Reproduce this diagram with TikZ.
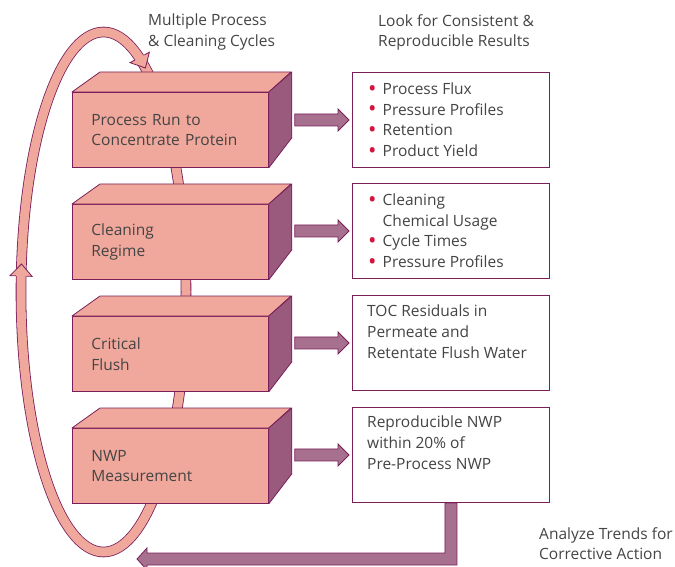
\documentclass[tikz,border=0pt]{standalone}
\usepackage{fontspec}
\setmainfont{Open Sans}
\usetikzlibrary{calc}

\definecolor{salmon}{RGB}{240,168,156}
\definecolor{plum}{RGB}{154,90,126}
\definecolor{plumline}{RGB}{122,30,90}
\definecolor{arrowplum}{RGB}{166,112,142}
\definecolor{dotred}{RGB}{212,20,60}
\definecolor{txt}{RGB}{68,68,68}

\newcommand{\labelfont}{\fontsize{15.5}{20.7}\selectfont}
\newcommand{\itm}{\makebox[14.5pt][l]{\raisebox{-1.8pt}{\scalebox{1.45}{\textcolor{dotred}{\textbullet}}}}}

\tikzset{
	stage/.style={draw=plumline, fill=salmon, line width=0.8pt, anchor=north west,
		text width=158pt, inner xsep=19pt, inner ysep=0pt, minimum height=75pt,
		align=left, text=txt, font=\labelfont},
	face/.style={draw=plumline, line width=0.8pt, line join=round},
	resbox/.style={draw=plumline, fill=white, line width=0.9pt, anchor=north west,
		minimum width=197pt, minimum height=95pt, inner sep=0pt},
	restext/.style={anchor=north west, inner sep=0pt, align=left, text=txt, font=\labelfont},
	fatarrow/.style={draw=plumline, fill=arrowplum, line width=0.8pt, line join=miter},
	ring/.style={draw=plumline, line width=0.8pt, double=salmon, double distance=9pt}
}

% arrow head sitting on the loop band: tip, direction
\newcommand{\ringhead}[2]{%
	\begin{scope}[shift={#1}, rotate=#2]
		\fill[salmon] (0,0) -- (-12,11) -- (-12,-11) -- cycle;
		\draw[plumline, line width=0.8pt, line join=miter] (-12,5.3) -- (-12,11) -- (0,0) -- (-12,-11) -- (-12,-5.3);
	\end{scope}}

% block arrow from a stage to its result box
\newcommand{\fatarrow}[2]{%
	\filldraw[fatarrow] let \p1=(#1.east), \p2=(#2.west) in
		(\x1+26pt,\y2+6pt) -- (\x2-14pt,\y2+6pt) -- (\x2-14pt,\y2+11pt) -- (\x2-3pt,\y2)
		-- (\x2-14pt,\y2-11pt) -- (\x2-14pt,\y2-6pt) -- (\x1+26pt,\y2-6pt) -- cycle;}

\begin{document}
\begin{tikzpicture}[x=1pt, y=-1pt]
	\useasboundingbox (0,0) rectangle (675,567);

	% loop behind the stages
	\draw[ring] (103.5,292) ellipse [x radius=82.5, y radius=260];

	% stages
	\node[stage] (run)   at (72,92)  {Process Run to\\Concentrate Protein};
	\node[stage] (clean) at (72,204) {Cleaning\\Regime};
	\node[stage] (flush) at (72,316) {Critical\\Flush};
	\node[stage] (nwp)   at (72,428) {NWP\\Measurement};

	\foreach \s in {run, clean, flush, nwp} {
		\filldraw[face, fill=salmon] (\s.north west) -- ++(28,-20) -- ++(191,0) -- (\s.north east) -- cycle;
		\filldraw[face, fill=plum] (\s.north east) -- ++(23,-20) -- ($(\s.south east)+(23,-30)$) -- (\s.south east) -- cycle;
	}

	% heads on the loop
	\ringhead{(21.5,264)}{88}
	\ringhead{(145.4,68)}{-61.7}

	% results
	\node[resbox] (res1) at (352,72)  {};
	\node[resbox] (res2) at (352,183) {};
	\node[resbox] (res3) at (352,295) {};
	\node[resbox] (res4) at (352,407) {};

	\fatarrow{run}{res1}
	\fatarrow{clean}{res2}
	\fatarrow{flush}{res3}
	\fatarrow{nwp}{res4}

	\node[restext] (res1txt) at ($(res1.north west)+(16,10.5)$)
		{\itm Process Flux\\\itm Pressure Profiles\\\itm Retention\\\itm Product Yield};
	\node[restext] (res2txt) at ($(res2.north west)+(16,10.5)$)
		{\itm Cleaning\\\hspace*{14.5pt}Chemical Usage\\\itm Cycle Times\\\itm Pressure Profiles};
	\node[restext] (res3txt) at ($(res3.north west)+(15,10)$)
		{TOC Residuals in\\Permeate and\\Retentate Flush Water};
	\node[restext] (res4txt) at ($(res4.north west)+(15,9)$)
		{Reproducible NWP\\within 20\% of\\Pre-Process NWP};

	% feedback to the start
	\coordinate (back) at (137,559);
	\filldraw[fatarrow] let \p1=(res4.south), \p2=(back) in
		(\x1-6pt,\y1) -- (\x1-6pt,\y2+6pt) -- (\x2+10pt,\y2+6pt) -- (\x2+10pt,\y2+11pt) -- (\x2,\y2)
		-- (\x2+10pt,\y2-11pt) -- (\x2+10pt,\y2-6pt) -- (\x1+6pt,\y2-6pt) -- (\x1+6pt,\y1) -- cycle;
	\draw[plumline, line width=0.9pt] (res4.south west) -- (res4.south east);

	% captions
	\node[restext] (cycles) at (148,14) {Multiple Process\\\& Cleaning Cycles};
	\node[restext] (look) at (378,14) {Look for Consistent \&\\Reproducible Results};
	\node[restext] (trends) at (539,527) {Analyze Trends for\\Corrective Action};
\end{tikzpicture}
\end{document}
